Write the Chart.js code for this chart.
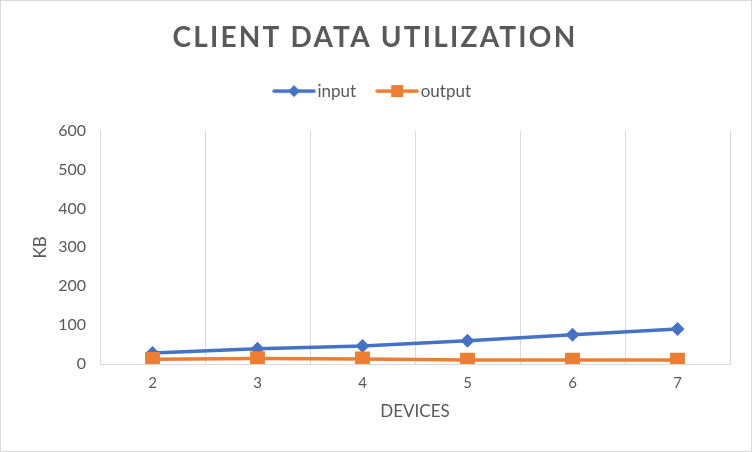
<!DOCTYPE html>
<html>
<head>
<meta charset="utf-8">
<script src="https://cdn.jsdelivr.net/npm/chart.js@4/dist/chart.umd.min.js"></script>
<style>
  html, body { margin: 0; padding: 0; background: #fff; }
  #wrap { width: 752px; height: 452px; position: relative; }
</style>
</head>
<body>
<div id="wrap"><canvas id="c" width="752" height="452"></canvas></div>
<script>
const categories = ['2', '3', '4', '5', '6', '7'];
const inputKB = [28, 39, 46, 60, 75, 90];
const outputKB = [12, 14, 13, 10, 10, 10];
const seriesNames = ['input', 'output'];
const yTicks = [0, 100, 200, 300, 400, 500, 600];

const BLUE = '#4472C4';
const ORANGE = '#ED7D31';
const TEXT = '#595959';
const GRID = '#D9D9D9';
const FONT = 'Lato, "Open Sans", sans-serif';

function legendImage(color, shape) {
  const cv = document.createElement('canvas');
  cv.width = 44; cv.height = 16;
  const g = cv.getContext('2d');
  g.strokeStyle = color; g.lineWidth = 3.5; g.lineCap = 'round';
  g.beginPath(); g.moveTo(2, 8); g.lineTo(42, 8); g.stroke();
  g.fillStyle = color;
  g.beginPath();
  if (shape === 'diamond') {
    g.moveTo(22, 2); g.lineTo(28, 8); g.lineTo(22, 14); g.lineTo(16, 8); g.closePath();
  } else {
    g.rect(16, 2, 12, 12);
  }
  g.fill();
  return cv;
}
const legendImgs = [legendImage(BLUE, 'diamond'), legendImage(ORANGE, 'square')];

const borderPlugin = {
  id: 'outerBorder',
  afterDraw(chart) {
    const ctx = chart.ctx;
    ctx.save();
    ctx.strokeStyle = GRID;
    ctx.lineWidth = 1;
    ctx.strokeRect(0.5, 0.5, chart.width - 1, chart.height - 1);
    ctx.restore();
  }
};

const chart = new Chart(document.getElementById('c'), {
  type: 'line',
  data: {
    labels: categories,
    datasets: [
      {
        label: seriesNames[0], data: inputKB, borderColor: BLUE, backgroundColor: BLUE,
        borderWidth: 3.5, pointStyle: 'rectRot', pointRadius: 7, pointHoverRadius: 7,
        pointBorderWidth: 0, tension: 0, order: 1
      },
      {
        label: seriesNames[1], data: outputKB, borderColor: ORANGE, backgroundColor: ORANGE,
        borderWidth: 3.5, pointStyle: 'rect', pointRadius: 10.5, pointHoverRadius: 10.5,
        pointBorderWidth: 0, tension: 0, order: 0
      }
    ]
  },
  options: {
    responsive: false,
    animation: false,
    devicePixelRatio: 1,
    layout: { padding: { left: 20, right: 22, top: 0, bottom: 30 } },
    plugins: {
      tooltip: { enabled: false },
      title: {
        display: true,
        text: 'CLIENT DATA UTILIZATION',
        color: TEXT,
        font: { family: FONT, size: 28, weight: 'bold' },
        padding: { top: 21, bottom: 2 }
      },
      legend: {
        display: true,
        position: 'top',
        labels: {
          color: TEXT,
          font: { family: FONT, size: 17 },
          usePointStyle: true,
          pointStyleWidth: 30,
          padding: 26,
          generateLabels(chart) {
            return seriesNames.map((name, i) => ({
              text: name,
              fontColor: TEXT,
              pointStyle: legendImgs[i],
              datasetIndex: i,
              hidden: false,
              lineWidth: 0,
              strokeStyle: 'transparent',
              fillStyle: 'transparent'
            }));
          }
        }
      }
    },
    scales: {
      x: {
        type: 'category',
        offset: true,
        afterFit(scale) { scale.height = 58; },
        grid: { display: true, offset: true, color: GRID, lineWidth: 1, drawTicks: false },
        border: { display: true, color: GRID, width: 1 },
        ticks: { color: TEXT, font: { family: FONT, size: 15 }, padding: 10 },
        title: {
          display: true, text: 'DEVICES', color: TEXT,
          font: { family: FONT, size: 17 }, padding: { top: 4, bottom: 0 }
        }
      },
      y: {
        min: 0, max: 600,
        afterFit(scale) { scale.width = 80; },
        afterBuildTicks(scale) { scale.ticks = yTicks.map(v => ({ value: v })); },
        grid: { display: false, drawTicks: false },
        border: { display: true, color: GRID, width: 1 },
        ticks: { color: TEXT, font: { family: FONT, size: 16 }, padding: 14 },
        title: {
          display: true, text: 'KB', color: TEXT,
          font: { family: FONT, size: 17 }, padding: { top: 10, bottom: 0 }
        }
      }
    }
  },
  plugins: [borderPlugin]
});

// letter-spaced title
const tb = chart.titleBlock;
if (tb) {
  const origDraw = tb.draw.bind(tb);
  tb.draw = function () {
    const ctx = chart.ctx;
    ctx.save();
    try { ctx.letterSpacing = '2.2px'; } catch (e) {}
    origDraw();
    ctx.restore();
  };
}
// extra space below the legend
const lg = chart.legend;
if (lg) {
  const origFit = lg.fit.bind(lg);
  lg.fit = function () {
    origFit();
    this.height += 21;
  };
}
chart.update();
</script>
</body>
</html>
